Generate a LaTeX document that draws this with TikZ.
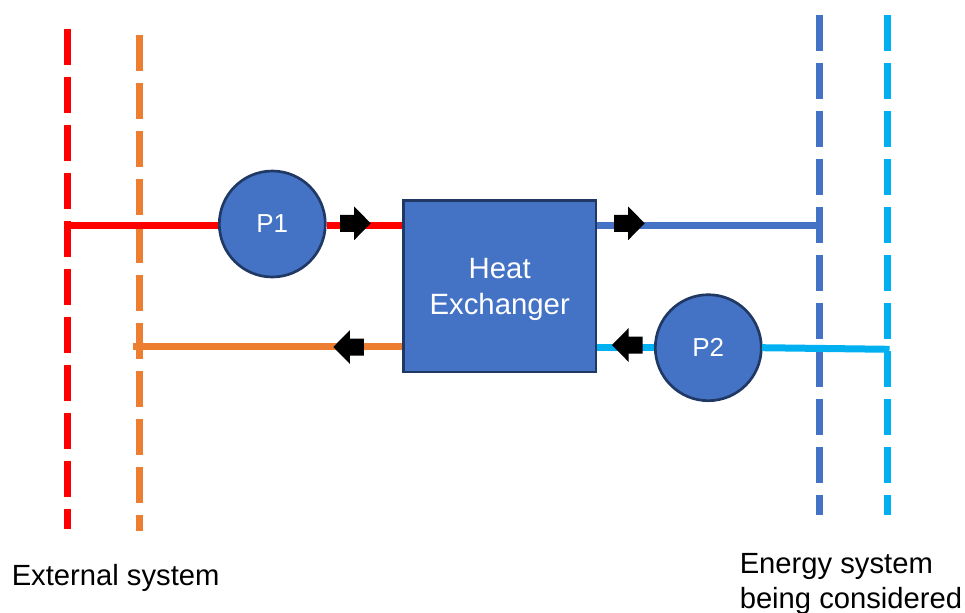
\documentclass[tikz,border=0pt]{standalone}
\usepackage{fontspec}
\setmainfont{Liberation Sans}
\definecolor{pblue}{HTML}{4472C4}
\definecolor{pedge}{HTML}{203864}
\definecolor{porange}{HTML}{ED7D31}
\definecolor{pcyan}{HTML}{00B0F0}
\newcommand{\blockR}[2]{\fill[black] (#1,#2) ++(-30.5,-8.5) -- ++(14,0) -- ++(0,-8.3) -- ++(16.5,16.8) -- ++(-16.5,16.8) -- ++(0,-8.3) -- ++(-14,0) -- cycle;}
\newcommand{\blockL}[2]{\fill[black] (#1,#2) ++(30.5,-8.5) -- ++(-14,0) -- ++(0,-8.3) -- ++(-16.5,16.8) -- ++(16.5,16.8) -- ++(0,-8.3) -- ++(14,0) -- cycle;}
\tikzset{
  dashline/.style={line width=5.25pt,dash pattern=on 27pt off 9pt},
  pipe/.style={line width=5.25pt},
  pump/.style={circle,draw=pedge,line width=2pt,fill=pblue,text=white,font=\fontsize{19.5}{23}\selectfont,minimum size=79.5pt,inner sep=0pt},
  hxbox/.style={rectangle,draw=pedge,line width=2pt,fill=pblue,text=white,align=center,font=\fontsize{22}{27}\selectfont,minimum width=144.5pt,minimum height=128.5pt,inner sep=0pt},
  caption/.style={anchor=west,align=left,inner sep=0pt,font=\fontsize{21.9}{25.6}\selectfont}
}
\begin{document}
\begin{tikzpicture}[x=0.75pt,y=-0.75pt]
\useasboundingbox (0,0) rectangle (965,612);
\coordinate (redT) at (67.5,29);
\coordinate (redB) at (67.5,529);
\coordinate (orT) at (139,35);
\coordinate (orB) at (139,531);
\coordinate (blT) at (819,15);
\coordinate (blB) at (819,515);
\coordinate (cyT) at (887.5,15);
\coordinate (cyB) at (887.5,515);
\coordinate (redL) at (64,225.3);
\coordinate (orL) at (133,346.8);
\coordinate (blR) at (816,225.3);
\coordinate (cyM) at (762,347.7);
\coordinate (cyR) at (889.5,349.3);
\draw[dashline,red] (redT) -- (redB);
\draw[dashline,porange] (orT) -- (orB);
\draw[dashline,pblue] (blT) -- (blB);
\draw[dashline,pcyan] (cyT) -- (cyB);
\node[pump] (P1) at (272.3,224) {P1};
\node[pump] (P2) at (708.3,347.7) {P2};
\node[hxbox] (hx) at (499.7,286.2) {\rule{0pt}{20.5pt}Heat\\Exchanger};
\draw[pipe,red] (redL) -- (redL -| P1.west);
\draw[pipe,red] (redL -| P1.east) -- (redL -| hx.west);
\draw[pipe,porange] (orL) -- (orL -| hx.west);
\draw[pipe,pblue] (blR -| hx.east) -- (blR);
\draw[pipe,pcyan] (cyM -| hx.east) -- (cyM -| P2.west);
\draw[pipe,pcyan] (cyM) -- (cyR);
\blockR{370.7}{223.3}
\blockL{333.3}{347}
\blockR{644.7}{223.3}
\blockL{612}{345}
\node[caption] (ext) at (11.5,578) {External system};
\node[caption] (en) at (739.5,584) {Energy system\\being considered};
\end{tikzpicture}
\end{document}
